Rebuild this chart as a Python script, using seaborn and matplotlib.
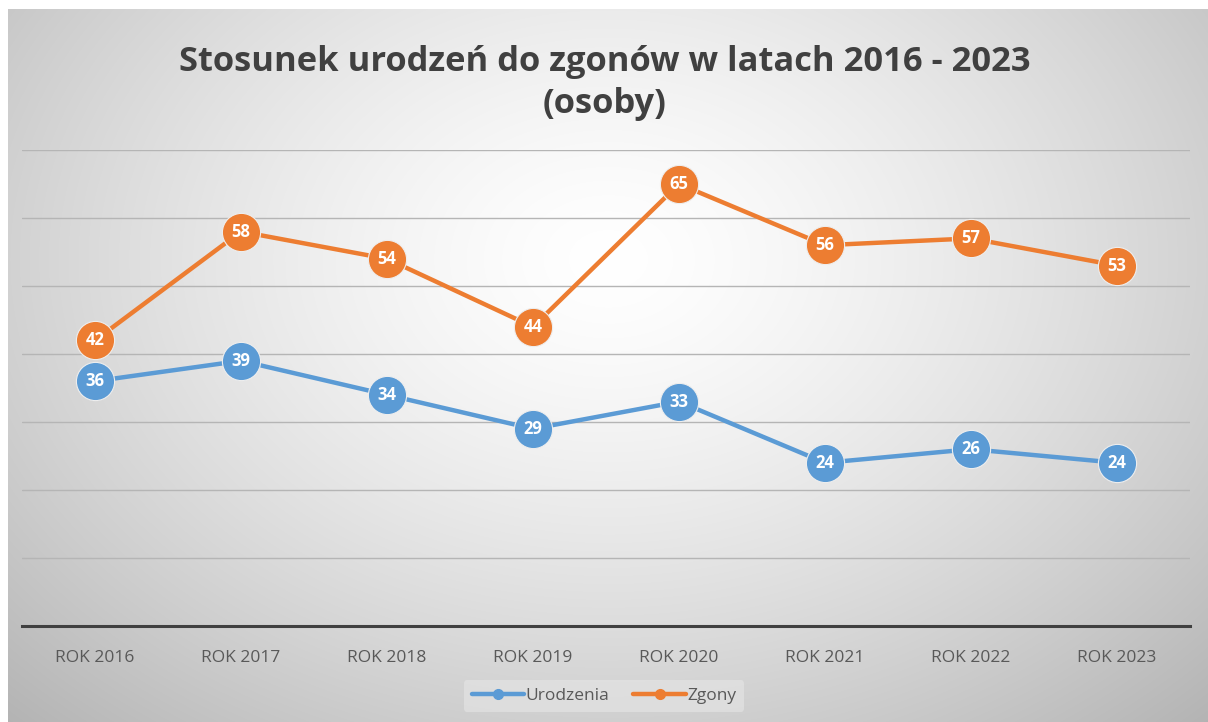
import numpy as np
import pandas as pd
import matplotlib
matplotlib.use("Agg")
import matplotlib.pyplot as plt
import seaborn as sns
from matplotlib.lines import Line2D

categories = ["ROK 2016", "ROK 2017", "ROK 2018", "ROK 2019", "ROK 2020", "ROK 2021", "ROK 2022", "ROK 2023"]
urodzenia = [36, 39, 34, 29, 33, 24, 26, 24]
zgony = [42, 58, 54, 44, 65, 56, 57, 53]
series_names = ["Urodzenia", "Zgony"]
title = "Stosunek urodzeń do zgonów w latach 2016 - 2023\n(osoby)"

colors = {"Urodzenia": "#5B9BD5", "Zgony": "#ED7D31"}

sns.set_theme(style="white")
plt.rcParams['font.family'] = ['Open Sans', 'DejaVu Sans']

W, H = 1208, 722
fig = plt.figure(figsize=(W / 100, H / 100), dpi=100)
fig.patch.set_facecolor("white")

# radial gradient background
bg = fig.add_axes([8 / W, 0, (W - 8) / W, (H - 9) / H], zorder=0)
yy, xx = np.mgrid[0:713, 0:1200]
cx, cy = 600, 250
r = np.sqrt(((xx - cx) / 700.0) ** 2 + ((yy - cy) / 520.0) ** 2)
val = 1.0 - 0.22 * np.clip(r, 0, 1.3) ** 1.4
bg.imshow(np.dstack([val, val, val]), aspect="auto", extent=[0, 1, 0, 1], origin="upper")
bg.set_axis_off()

df = pd.DataFrame({
    "cat": categories * 2,
    "x": list(range(len(categories))) * 2,
    "value": urodzenia + zgony,
    "series": [series_names[0]] * len(categories) + [series_names[1]] * len(categories),
})

ax = fig.add_axes([22 / W, (H - 626) / H, 1168 / W, 476 / H], zorder=1)
ax.patch.set_alpha(0)
sns.lineplot(data=df, x="x", y="value", hue="series", palette=colors, ax=ax,
             linewidth=3.2, marker="o", markersize=27.5, markeredgecolor="#eeeeee",
             markeredgewidth=0.8, legend=False, zorder=3)

ax.set_xlim(-0.5, len(categories) - 0.5)
ax.set_ylim(0, 70)
ax.set_yticks(np.arange(10, 71, 10))
ax.yaxis.grid(True, color="#b5b5b5", linewidth=1)
ax.set_yticklabels([])
ax.tick_params(axis="y", length=0)
ax.set_xticks(range(len(categories)))
ax.set_xticklabels(categories, color="#595959", fontsize=12.5)
ax.tick_params(axis="x", length=0, pad=17)
for s in ["top", "right", "left"]:
    ax.spines[s].set_visible(False)
ax.spines["bottom"].set_color("#404040")
ax.spines["bottom"].set_linewidth(2.2)
ax.set_xlabel("")
ax.set_ylabel("")

for vals in (urodzenia, zgony):
    for i, v in enumerate(vals):
        ax.text(i, v, str(v), color="white", fontsize=12, fontweight="bold",
                ha="center", va="center", zorder=5)

fig.text(605 / W, 1 - 83 / H, title, ha="center", va="center", fontsize=24.8,
         fontweight="bold", color="#404040", linespacing=1.28, zorder=2)

handles = [Line2D([0], [0], color=colors[n], lw=3.2, marker="o", markersize=7) for n in series_names]
leg = fig.legend(handles, series_names, loc="center", bbox_to_anchor=(604 / W, 1 - 696 / H),
                 ncol=2, frameon=True, fontsize=12.5, handlelength=3.0, columnspacing=1.4,
                 handletextpad=0.1, borderpad=0.45)
leg.get_frame().set_facecolor("#e6e6e6")
leg.get_frame().set_edgecolor("none")
leg.get_frame().set_alpha(0.6)
for t in leg.get_texts():
    t.set_color("#595959")

fig.savefig("out.png", dpi=100)
